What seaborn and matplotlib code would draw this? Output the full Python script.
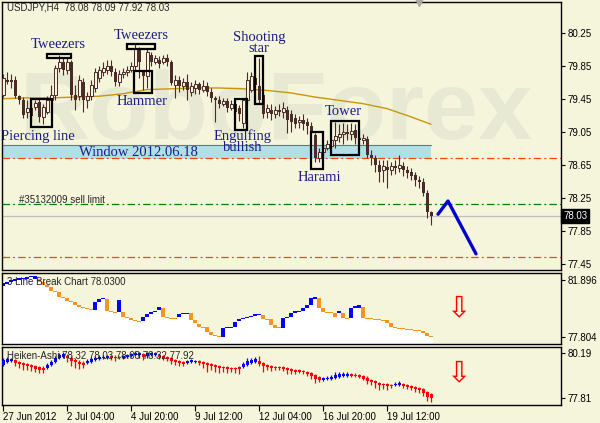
import numpy as np
import matplotlib
matplotlib.use("Agg")
import matplotlib.pyplot as plt
import seaborn as sns

# USDJPY H4, 27 Jun 2012 .. 20 Jul 2012
opens = [79.50, 79.68, 79.68, 79.68, 79.48, 79.43, 79.29, 79.34, 79.35, 79.41,
         79.23, 79.29, 79.43, 79.50, 79.82, 79.89, 79.80, 79.89, 79.50, 79.48,
         79.65, 79.43, 79.48, 79.58, 79.70, 79.77, 79.80, 79.85, 79.77, 79.65,
         79.75, 79.77, 79.80, 79.85, 80.04, 79.77, 79.72, 79.98, 79.89, 79.92,
         79.89, 79.94, 79.89, 79.62, 79.68, 79.60, 79.65, 79.53, 79.58, 79.63,
         79.56, 79.60, 79.53, 79.46, 79.43, 79.39, 79.42, 79.34, 79.39, 79.34,
         79.16, 79.43, 79.56, 79.70, 79.60, 79.50, 79.29, 79.31, 79.27, 79.31,
         79.29, 79.31, 79.27, 79.22, 79.17, 79.19, 79.17, 79.12, 79.01, 78.73,
         78.80, 78.85, 78.88, 78.95, 78.99, 79.02, 79.05, 79.02, 79.07, 78.97,
         78.95, 78.96, 78.77, 78.73, 78.65, 78.59, 78.62, 78.59, 78.63, 78.61,
         78.63, 78.59, 78.56, 78.53, 78.46, 78.44, 78.31, 78.08]
closes = [79.70, 79.65, 79.65, 79.48, 79.43, 79.25, 79.34, 79.24, 79.40, 79.23,
          79.35, 79.43, 79.50, 79.82, 79.89, 79.80, 79.89, 79.50, 79.43, 79.68,
          79.43, 79.48, 79.62, 79.77, 79.80, 79.82, 79.85, 79.77, 79.65, 79.75,
          79.77, 79.80, 79.85, 80.06, 79.89, 79.72, 80.02, 79.89, 79.94, 79.87,
          79.94, 79.89, 79.64, 79.68, 79.60, 79.65, 79.56, 79.60, 79.63, 79.56,
          79.60, 79.53, 79.46, 79.43, 79.39, 79.42, 79.34, 79.39, 79.29, 79.27,
          79.43, 79.68, 79.72, 79.62, 79.43, 79.27, 79.34, 79.27, 79.31, 79.29,
          79.34, 79.19, 79.17, 79.14, 79.19, 79.14, 79.12, 79.05, 78.73, 78.80,
          78.85, 78.90, 78.95, 79.00, 79.02, 79.05, 79.02, 79.06, 78.97, 78.95,
          78.97, 78.77, 78.73, 78.65, 78.56, 78.63, 78.59, 78.63, 78.61, 78.65,
          78.59, 78.55, 78.51, 78.46, 78.44, 78.31, 78.08, 78.03]
highs = [79.75, 79.77, 79.75, 79.72, 79.50, 79.47, 79.43, 79.37, 79.43, 79.46,
         79.39, 79.48, 79.62, 79.86, 79.98, 79.96, 79.96, 79.92, 79.62, 79.74,
         79.70, 79.53, 79.68, 79.82, 79.85, 79.89, 79.92, 79.92, 79.82, 79.80,
         79.82, 79.85, 79.89, 80.11, 80.08, 79.80, 80.06, 80.02, 79.98, 79.97,
         79.98, 79.99, 79.92, 79.74, 79.72, 79.70, 79.75, 79.65, 79.68, 79.65,
         79.68, 79.65, 79.58, 79.48, 79.48, 79.46, 79.46, 79.43, 79.41, 79.37,
         79.46, 79.77, 79.77, 79.80, 79.94, 79.53, 79.39, 79.39, 79.36, 79.39,
         79.41, 79.36, 79.31, 79.27, 79.24, 79.27, 79.22, 79.17, 79.03, 78.85,
         78.90, 78.95, 79.00, 79.17, 79.14, 79.16, 79.14, 79.16, 79.14, 79.09,
         79.02, 79.00, 78.83, 78.77, 78.71, 78.71, 78.71, 78.68, 78.71, 78.77,
         78.68, 78.63, 78.61, 78.56, 78.51, 78.49, 78.34, 78.09]
lows = [79.47, 79.63, 79.58, 79.46, 79.39, 79.22, 79.22, 79.17, 79.31, 79.17,
        79.14, 79.27, 79.41, 79.43, 79.77, 79.74, 79.75, 79.43, 79.31, 79.43,
        79.29, 79.34, 79.43, 79.53, 79.65, 79.72, 79.75, 79.72, 79.60, 79.60,
        79.70, 79.72, 79.77, 79.80, 79.70, 79.56, 79.58, 79.85, 79.87, 79.82,
        79.87, 79.85, 79.62, 79.46, 79.53, 79.56, 79.43, 79.48, 79.51, 79.51,
        79.53, 79.48, 79.41, 79.17, 79.34, 79.36, 79.29, 79.31, 79.27, 79.18,
        79.09, 79.41, 79.53, 79.58, 79.39, 79.22, 79.22, 79.19, 79.22, 79.24,
        79.22, 79.03, 79.05, 79.09, 79.09, 79.07, 79.02, 79.02, 78.68, 78.68,
        78.76, 78.83, 78.83, 78.85, 78.92, 78.90, 78.95, 78.95, 78.90, 78.88,
        78.90, 78.73, 78.65, 78.56, 78.44, 78.44, 78.37, 78.53, 78.54, 78.56,
        78.51, 78.49, 78.46, 78.39, 78.37, 78.27, 78.00, 77.92]

# moving average, sampled every 6 bars
ma_bars = [0, 6, 12, 18, 24, 30, 36, 42, 48, 54, 60, 66, 72, 78, 84, 90, 96, 102, 107]
ma_vals = [79.45, 79.46, 79.46, 79.47, 79.48, 79.51, 79.56, 79.57, 79.58, 79.58,
           79.57, 79.55, 79.52, 79.47, 79.43, 79.39, 79.33, 79.23, 79.14]

# hand-drawn forecast (blue zigzag)
fc_bars = [108.75, 111.25, 118.25]
fc_vals = [78.05, 78.21, 77.57]

# 3 Line Break indicator
lb_open = [81.47, 81.61, 81.75, 81.82, 81.90, 81.97, 81.97, 82.11, 81.97, 81.97,
           81.75, 81.54, 81.39, 81.11, 81.03, 80.68, 80.60, 80.39, 80.32, 80.10,
           79.96, 79.89, 79.81, 79.74, 80.32, 80.53, 80.53, 79.67, 79.60, 79.60,
           79.60, 79.24, 79.17, 79.02, 78.95, 78.95, 79.24, 79.46, 79.60, 79.74,
           79.89, 79.24, 79.17, 79.17, 79.24, 79.46, 79.46, 79.53, 79.02, 78.74,
           78.52, 78.52, 78.16, 77.95, 77.88, 77.80, 78.45, 78.45, 78.52, 78.95,
           79.10, 79.17, 79.24, 79.31, 79.38, 79.38, 79.10, 79.10, 78.67, 78.52,
           78.45, 79.17, 79.24, 79.53, 79.60, 79.67, 79.89, 80.10, 80.53, 80.60,
           79.89, 79.60, 79.60, 79.53, 79.53, 79.53, 79.17, 79.17, 79.89, 79.89,
           79.96, 79.17, 79.17, 79.10, 79.10, 79.02, 79.02, 78.81, 78.52, 78.45,
           78.45, 78.38, 78.38, 78.31, 78.31, 78.23, 78.09, 77.88]
lb_close = [81.68, 81.75, 81.90, 81.97, 82.04, 82.04, 82.11, 82.18, 82.18, 81.75,
            81.54, 81.39, 81.11, 81.03, 80.68, 80.60, 80.39, 80.32, 80.10, 79.96,
            79.89, 79.81, 79.74, 80.32, 80.53, 80.60, 79.67, 79.60, 79.53, 80.46,
            79.24, 79.17, 79.02, 78.95, 78.88, 79.24, 79.46, 79.60, 79.67, 79.96,
            79.24, 79.17, 79.10, 79.10, 79.46, 79.53, 79.53, 79.02, 78.81, 78.52,
            78.45, 78.16, 77.95, 77.88, 77.80, 78.45, 78.52, 78.52, 78.88, 79.10,
            79.17, 79.24, 79.31, 79.46, 79.46, 79.10, 79.02, 78.67, 78.45, 78.45,
            79.17, 79.24, 79.53, 79.67, 79.67, 79.89, 80.10, 80.60, 80.68, 79.89,
            79.60, 79.53, 79.53, 79.24, 79.67, 79.17, 79.10, 79.89, 80.03, 80.10,
            79.17, 79.10, 79.10, 79.02, 79.02, 78.95, 78.81, 78.52, 78.45, 78.38,
            78.38, 78.31, 78.31, 78.23, 78.23, 78.09, 77.88, 77.80]

# Heiken-Ashi indicator
ha_open = [79.56, 79.71, 79.77, 79.82, 79.71, 79.66, 79.61, 79.56, 79.50, 79.45,
           79.40, 79.40, 79.56, 79.71, 79.92, 79.98, 80.03, 79.92, 79.82, 79.71,
           79.66, 79.66, 79.71, 79.82, 79.87, 79.92, 79.92, 80.03, 79.98, 79.98,
           79.92, 79.98, 80.03, 80.08, 80.08, 80.14, 80.03, 80.08, 80.08, 80.08,
           80.03, 79.98, 79.92, 79.82, 79.77, 79.71, 79.66, 79.71, 79.71, 79.77,
           79.71, 79.66, 79.61, 79.56, 79.50, 79.45, 79.45, 79.40, 79.40, 79.45,
           79.45, 79.56, 79.66, 79.71, 79.77, 79.66, 79.56, 79.50, 79.45, 79.45,
           79.45, 79.40, 79.34, 79.29, 79.29, 79.24, 79.19, 79.13, 79.03, 78.92,
           78.76, 78.81, 78.81, 78.87, 78.92, 78.97, 78.97, 79.08, 79.03, 79.03,
           78.97, 78.87, 78.76, 78.71, 78.60, 78.55, 78.55, 78.50, 78.50, 78.50,
           78.55, 78.50, 78.44, 78.39, 78.34, 78.29, 78.13, 78.02]
ha_close = [79.82, 79.87, 79.87, 79.66, 79.61, 79.56, 79.50, 79.45, 79.34, 79.29,
            79.29, 79.56, 79.71, 79.92, 80.08, 80.14, 79.92, 79.77, 79.71, 79.61,
            79.56, 79.77, 79.87, 79.92, 79.98, 79.98, 80.03, 79.92, 79.92, 79.92,
            80.03, 80.08, 80.14, 80.19, 80.19, 79.98, 80.19, 80.19, 80.19, 79.98,
            79.92, 79.87, 79.77, 79.71, 79.66, 79.61, 79.77, 79.82, 79.77, 79.66,
            79.61, 79.56, 79.50, 79.45, 79.40, 79.40, 79.34, 79.34, 79.34, 79.34,
            79.61, 79.77, 79.82, 79.87, 79.61, 79.50, 79.45, 79.40, 79.40, 79.40,
            79.34, 79.29, 79.24, 79.19, 79.19, 79.19, 79.08, 78.97, 78.81, 78.76,
            78.87, 78.87, 78.92, 79.03, 79.08, 79.08, 79.08, 78.97, 78.97, 78.92,
            78.81, 78.71, 78.66, 78.60, 78.50, 78.50, 78.44, 78.44, 78.55, 78.60,
            78.44, 78.39, 78.34, 78.29, 78.23, 78.07, 77.86, 77.81]
ha_high = [79.92, 79.98, 79.92, 79.87, 79.77, 79.71, 79.66, 79.61, 79.56, 79.50,
           79.50, 79.66, 79.82, 80.03, 80.19, 80.24, 80.14, 80.03, 79.92, 79.82,
           79.77, 79.87, 79.98, 80.03, 80.08, 80.08, 80.08, 80.08, 80.08, 80.03,
           80.08, 80.14, 80.19, 80.30, 80.24, 80.19, 80.24, 80.24, 80.24, 80.14,
           80.08, 80.03, 79.98, 79.87, 79.82, 79.77, 79.82, 79.87, 79.82, 79.82,
           79.77, 79.71, 79.66, 79.61, 79.56, 79.50, 79.50, 79.45, 79.45, 79.50,
           79.71, 79.92, 79.92, 79.98, 80.03, 79.71, 79.61, 79.56, 79.50, 79.50,
           79.50, 79.45, 79.40, 79.34, 79.34, 79.29, 79.24, 79.19, 79.08, 78.97,
           78.92, 78.97, 79.03, 79.19, 79.19, 79.19, 79.19, 79.13, 79.13, 79.08,
           79.03, 78.97, 78.81, 78.76, 78.66, 78.60, 78.60, 78.55, 78.66, 78.71,
           78.60, 78.55, 78.50, 78.44, 78.39, 78.34, 78.18, 78.07]
ha_low = [79.50, 79.66, 79.71, 79.50, 79.40, 79.29, 79.29, 79.24, 79.19, 79.13,
          79.13, 79.34, 79.50, 79.66, 79.87, 79.92, 79.71, 79.50, 79.40, 79.34,
          79.40, 79.61, 79.66, 79.77, 79.82, 79.87, 79.87, 79.82, 79.77, 79.87,
          79.87, 79.92, 79.98, 80.03, 79.92, 79.82, 79.92, 80.03, 80.03, 79.87,
          79.82, 79.77, 79.61, 79.56, 79.50, 79.50, 79.61, 79.66, 79.66, 79.56,
          79.40, 79.19, 79.29, 79.19, 79.13, 79.19, 79.13, 79.19, 79.13, 79.08,
          79.40, 79.50, 79.61, 79.66, 79.50, 79.19, 79.29, 79.24, 79.29, 79.29,
          79.24, 79.08, 79.08, 79.08, 79.13, 79.08, 78.97, 78.81, 78.60, 78.66,
          78.71, 78.76, 78.76, 78.81, 78.87, 78.92, 78.92, 78.92, 78.92, 78.87,
          78.76, 78.55, 78.50, 78.34, 78.23, 78.29, 78.23, 78.34, 78.44, 78.44,
          78.34, 78.29, 78.23, 78.13, 78.07, 77.92, 77.65, 77.60]

# candlestick pattern boxes: (bar from, bar to, price low, price high)
boxes = [(7.0, 12.25, 79.11, 79.45), (11.0, 17.0, 79.94, 79.99),
         (31.0, 38.0, 80.05, 80.11), (32.75, 37.25, 79.52, 79.79),
         (58.0, 61.0, 79.07, 79.45), (63.0, 65.0, 79.39, 79.97),
         (77.0, 80.0, 78.60, 79.05), (82.0, 89.0, 78.77, 79.18)]
labels = ["Tweezers", "Tweezers", "Hammer", "Shooting\nstar", "Piercing line",
          "Engulfing\nbullish", "Tower", "Harami"]
label_bars = [13.75, 34.5, 34.75, 64.0, 8.75, 60.0, 85.0, 79.0]
label_vals = [80.11, 80.22, 79.42, 80.12, 78.99, 78.93, 79.30, 78.50]

# levels
window_top, window_bot, window_end = 78.89, 78.72, 107
red_levels = [78.735, 77.53]
sell_limit = 78.17
bid = 78.03

time_bars = [0, 16, 32, 48, 64, 80, 96]
time_labels = ["27 Jun 2012", "2 Jul 04:00", "4 Jul 20:00", "9 Jul 12:00",
               "12 Jul 04:00", "16 Jul 20:00", "19 Jul 12:00"]

BG = "#f5f5dc"
CANDLE = "#4b2a2a"
NAVY = "#1c1c84"
BLUE = "#0000ff"
ORANGE = "#f7931e"
DASHDOT = (0, (6, 2.5, 1.5, 2.5))

sns.set_style("white")
plt.rcParams["font.family"] = ["Liberation Sans", "DejaVu Sans"]

W, H = 600, 423
fig = plt.figure(figsize=(6, 4.23), dpi=100)
fig.patch.set_facecolor(BG)


def panel(top, bottom):
    return [2 / W, 1 - bottom / H, 559 / W, (bottom - top) / H]


ax = fig.add_axes(panel(2, 270))
ax2 = fig.add_axes(panel(273, 344), sharex=ax)
ax3 = fig.add_axes(panel(347, 405), sharex=ax)

bars = np.arange(len(closes))
o, h, l, c = map(np.array, (opens, highs, lows, closes))
up = c >= o

for a in (ax, ax2, ax3):
    a.set_facecolor(BG)
    for s in a.spines.values():
        s.set_color("black")
        s.set_linewidth(1)
    a.yaxis.tick_right()
    a.tick_params(axis="y", right=True, length=3, width=0.8, pad=2,
                  labelsize=7, colors="black")
    a.tick_params(axis="x", bottom=False, labelbottom=False)
ax.set_xlim(-0.25, 139.5)

# ---- main price panel ----
ax.set_ylim(77.374, 80.622)
ax.set_yticks([80.25, 79.85, 79.45, 79.05, 78.65, 78.25, 77.85, 77.45])
ax.set_yticklabels(["80.25", "79.85", "79.45", "79.05", "78.65", "78.25", "77.85", "77.45"])

ax.text(0.032, 0.49, "RoboForex", transform=ax.transAxes, fontsize=70,
        fontweight="bold", color="#e8e9d3", va="baseline", zorder=0)

ax.fill_between([-0.25, window_end], window_bot, window_top, color="#b0e0e6", lw=0, zorder=1)
ax.plot([-0.25, window_end], [window_top, window_top], color="#5f7a7a", lw=0.8, zorder=1)
ax.plot([-0.25, window_end], [window_bot, window_bot], color="white", lw=0.8, zorder=1)
for lv in red_levels:
    ax.axhline(lv, color="#ff4500", lw=0.9, ls=DASHDOT, zorder=1)
ax.axhline(sell_limit, color="#008000", lw=0.9, ls=DASHDOT, zorder=1)
ax.axhline(bid, color="#c0c0c0", lw=0.9, zorder=1)
ax.text(4, sell_limit + 0.05, "#35132009 sell limit", fontsize=7, va="center")

sns.lineplot(x=ma_bars, y=ma_vals, ax=ax, color="#c8960c", lw=1, zorder=2)

ax.vlines(bars, l, h, color=CANDLE, lw=0.8, zorder=3)
ax.bar(bars[~up], np.maximum((o - c)[~up], 0.008), bottom=c[~up], width=0.75,
       color=CANDLE, lw=0, zorder=4)
ax.bar(bars[up], np.maximum((c - o)[up], 0.008), bottom=o[up], width=0.75,
       facecolor=BG, edgecolor=CANDLE, lw=0.7, zorder=4)

for (x0, x1, y0, y1) in boxes:
    ax.add_patch(plt.Rectangle((x0, y0), x1 - x0, y1 - y0, fill=False,
                               edgecolor="black", lw=1.6, zorder=5))
for txt, bx, by in zip(labels, label_bars, label_vals):
    ax.text(bx, by, txt, family="Liberation Serif", fontsize=10.5, color=NAVY,
            ha="center", va="center", linespacing=0.8, zorder=6)
ax.text(33.75, 78.80, "Window 2012.06.18", family="Liberation Serif", fontsize=10.5,
        color=NAVY, ha="center", va="center", zorder=6)

sns.lineplot(x=fc_bars, y=fc_vals, ax=ax, color="#0000cd", lw=2.4, zorder=6)

ax.text(1.004, bid, "78.03", transform=ax.get_yaxis_transform(), fontsize=7,
        color="white", va="center", ha="left",
        bbox=dict(facecolor="black", edgecolor="black", pad=1.5), zorder=7)
ax.plot([104], [1.0], marker="v", color="#a8a8a8", ms=6, clip_on=False,
        transform=ax.get_xaxis_transform(), zorder=7)
fig.text(7 / W, 1 - 8 / H, "USDJPY,H4  78.08 78.09 77.92 78.03", fontsize=7, va="center")

# ---- 3 Line Break panel ----
lb_lo_lim = 77.302
ax2.set_ylim(lb_lo_lim, 82.40)
ax2.set_yticks([81.896, 77.804])
ax2.set_yticklabels(["81.896", "77.804"])
lbo, lbc = np.array(lb_open), np.array(lb_close)
lb_lo = np.minimum(lbo, lbc)
lb_hi = np.maximum(lbo, lbc)
ax2.bar(bars, lb_lo - lb_lo_lim, bottom=lb_lo_lim, width=1.0, color="white", lw=0, zorder=1)
ax2.bar(bars, np.maximum(lb_hi - lb_lo, 0.05), bottom=lb_lo, width=0.8,
        color=[BLUE if cc > oo else ORANGE for oo, cc in zip(lbo, lbc)], lw=0, zorder=2)
ax2.text(113.9, 79.85, "\u21e9", color="red", fontsize=21, ha="center", va="center",
         family=["DejaVu Sans"])
fig.text(7 / W, 1 - 282 / H, "3 Line Break Chart 78.0300", fontsize=7, va="center")

# ---- Heiken-Ashi panel ----
ax3.set_ylim(77.439, 80.507)
ax3.set_yticks([80.19, 77.81])
ax3.set_yticklabels(["80.19", "77.81"])
hao, hac = np.array(ha_open), np.array(ha_close)
ha_cols = np.array([BLUE if cc > oo else "#ff0000" for oo, cc in zip(hao, hac)])
ax3.vlines(bars, ha_low, ha_high, colors=ha_cols, lw=0.9, zorder=2)
ax3.bar(bars, np.maximum(np.abs(hac - hao), 0.03), bottom=np.minimum(hao, hac),
        width=0.75, color=ha_cols, lw=0, zorder=3)
ax3.text(113.9, 79.11, "\u21e9", color="red", fontsize=21, ha="center", va="center",
         family=["DejaVu Sans"])
fig.text(7 / W, 1 - 356 / H, "Heiken-Ashi 78.32 78.03 78.03 78.32 77.92", fontsize=7, va="center")

ax3.set_xticks(time_bars)
ax3.set_xticklabels(time_labels, ha="left")
ax3.tick_params(axis="x", bottom=True, labelbottom=True, length=4, width=0.8,
                pad=1, labelsize=7, colors="black")

fig.savefig("out.png", dpi=100, facecolor=BG)
